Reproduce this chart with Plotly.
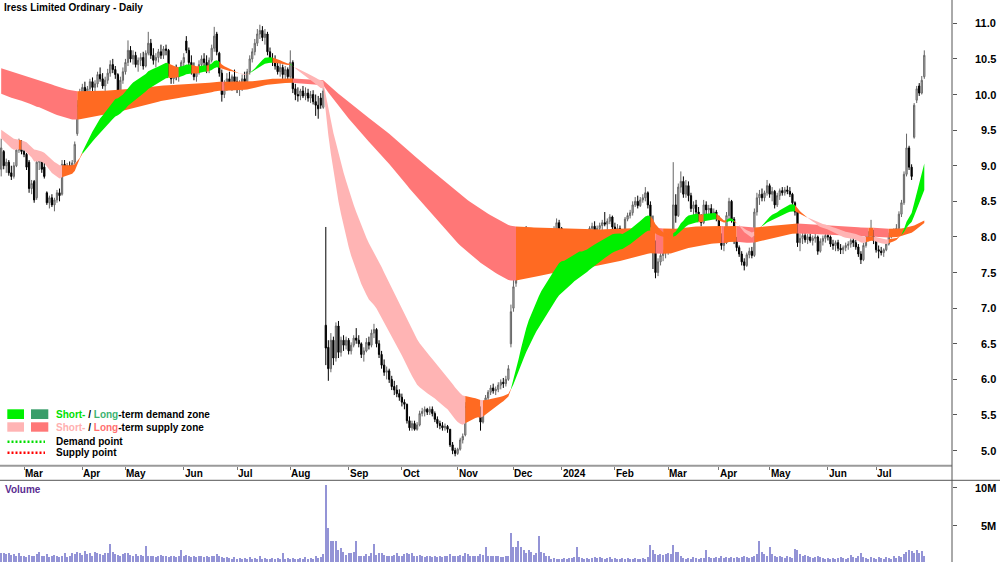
import numpy as np
import pandas as pd
import plotly.graph_objects as go

# ---------------- data ----------------
asx_holidays = ['2023-04-07', '2023-04-10', '2023-04-25', '2023-06-12', '2023-12-25', '2023-12-26',
                '2024-01-01', '2024-01-26', '2024-03-29', '2024-04-01', '2024-04-25', '2024-06-10']
dates = [d for d in pd.bdate_range('2023-02-16', '2024-07-26') if d.strftime('%Y-%m-%d') not in asx_holidays]

opens = [
    8.95, 9.20, 9.00, 9.05, 8.90, 8.85, 9.00, 9.22, 9.28, 9.20,
    9.16, 9.05, 8.68, 8.78, 8.55, 9.05, 9.10, 8.98, 8.62, 8.48,
    8.55, 8.45, 8.52, 8.62, 8.60, 9.02, 8.96, 9.00, 8.98, 9.05,
    9.45, 9.85, 10.02, 10.10, 10.02, 10.08, 10.18, 10.10, 10.15, 10.28,
    10.22, 10.12, 10.20, 10.30, 10.42, 10.35, 10.28, 10.05, 10.20, 10.32,
    10.45, 10.62, 10.50, 10.55, 10.42, 10.48, 10.52, 10.40, 10.58, 10.72,
    10.55, 10.48, 10.52, 10.60, 10.55, 10.64, 10.62, 10.30, 10.22, 10.30,
    10.25, 10.34, 10.45, 10.75, 10.62, 10.45, 10.35, 10.25, 10.32, 10.42,
    10.50, 10.45, 10.36, 10.48, 10.65, 10.85, 10.58, 10.30, 10.00, 10.15,
    10.22, 10.15, 10.25, 10.18, 10.08, 10.12, 10.22, 10.18, 10.32, 10.50,
    10.60, 10.72, 10.85, 10.90, 10.80, 10.85, 10.60, 10.50, 10.48, 10.40,
    10.32, 10.38, 10.28, 10.35, 10.25, 10.45, 10.08, 10.00, 9.98, 10.05,
    9.98, 10.02, 9.95, 10.00, 9.90, 9.85, 9.95, 9.82,
    6.76, 6.45, 6.15, 6.55, 6.30, 6.75, 6.38, 6.55, 6.48, 6.55,
    6.40, 6.48, 6.58, 6.55, 6.50, 6.35, 6.40, 6.52, 6.48, 6.65,
    6.70, 6.50, 6.35, 6.20, 6.10, 6.12, 6.00, 5.90, 5.85, 5.80,
    5.75, 5.68, 5.65, 5.42, 5.32, 5.38, 5.30, 5.36, 5.52, 5.55,
    5.58, 5.54, 5.58, 5.52, 5.44, 5.38, 5.35, 5.32, 5.34, 5.30,
    5.08, 5.00, 4.96, 5.02, 5.15, 5.22, 5.62, 5.68, 5.60, 5.55,
    5.62, 5.60, 5.40, 5.65, 5.74, 5.82, 5.88, 5.84, 5.86, 5.92,
    5.96, 5.94, 6.00, 6.50, 7.00, 7.35, 7.55, 7.75, 7.98, 8.05,
    8.02, 7.95, 7.80, 7.92, 7.98, 7.90, 7.96, 7.92, 7.98, 7.94,
    8.00, 8.10, 8.20, 8.12, 7.88, 7.75, 7.88, 7.92, 7.95, 8.02,
    8.05, 7.92, 7.80, 7.92, 7.98, 8.12, 8.15, 8.08, 8.12, 8.16,
    8.20, 8.18, 8.22, 8.28, 8.14, 8.10, 8.12, 8.02, 7.98, 8.25,
    8.30, 8.34, 8.45, 8.50, 8.44, 8.52, 8.55, 8.62, 8.45, 8.20,
    7.80, 7.50, 7.65, 7.74, 7.78, 7.82, 7.85, 7.92, 8.45, 8.30,
    8.70, 8.78, 8.60, 8.72, 8.58, 8.40, 8.45, 8.35, 8.28, 8.20,
    8.45, 8.38, 8.40, 8.32, 8.35, 8.28, 8.00, 7.88, 7.92, 8.30,
    8.50, 8.25, 7.95, 7.85, 7.76, 7.65, 7.60, 7.75, 7.80, 7.74,
    8.35, 8.55, 8.60, 8.55, 8.62, 8.72, 8.60, 8.64, 8.45, 8.58,
    8.65, 8.62, 8.66, 8.64, 8.60, 8.48, 8.35, 7.92, 7.98, 8.02,
    7.96, 8.00, 7.95, 7.98, 8.00, 7.80, 7.94, 7.98, 8.02, 8.00,
    7.90, 7.88, 7.92, 7.84, 7.82, 7.85, 7.88, 7.90, 7.95, 7.92,
    7.86, 7.76, 7.68, 7.88, 8.00, 8.04, 8.06, 7.95, 7.82, 7.80,
    7.78, 7.82, 7.90, 8.02, 8.06, 8.08, 8.12, 8.32, 8.48, 8.88,
    9.25, 8.98, 9.40, 9.92, 10.12, 10.02, 10.25,
]
highs = [
    9.38, 9.22, 9.10, 9.08, 9.00, 9.05, 9.33, 9.38, 9.36, 9.30,
    9.18, 9.08, 8.80, 8.80, 9.10, 9.17, 9.15, 9.05, 8.64, 8.58,
    8.60, 8.55, 8.66, 8.68, 9.08, 9.08, 9.04, 9.06, 9.08, 9.34,
    9.92, 10.08, 10.15, 10.18, 10.12, 10.22, 10.24, 10.20, 10.32, 10.38,
    10.30, 10.25, 10.36, 10.48, 10.50, 10.40, 10.30, 10.25, 10.38, 10.50,
    10.76, 10.68, 10.62, 10.60, 10.52, 10.58, 10.60, 10.62, 10.88, 10.78,
    10.65, 10.58, 10.64, 10.70, 10.68, 10.70, 10.64, 10.40, 10.35, 10.42,
    10.38, 10.48, 10.58, 10.82, 10.66, 10.55, 10.45, 10.38, 10.48, 10.55,
    10.58, 10.55, 10.52, 10.70, 10.95, 10.88, 10.60, 10.35, 10.20, 10.30,
    10.32, 10.28, 10.35, 10.25, 10.20, 10.28, 10.32, 10.36, 10.55, 10.65,
    10.78, 10.92, 10.98, 10.96, 10.92, 10.88, 10.66, 10.58, 10.55, 10.48,
    10.45, 10.42, 10.40, 10.38, 10.62, 10.48, 10.15, 10.10, 10.08, 10.12,
    10.10, 10.08, 10.05, 10.06, 10.00, 9.98, 10.02, 10.10,
    8.14, 6.55, 6.65, 6.60, 6.80, 6.82, 6.60, 6.62, 6.60, 6.58,
    6.52, 6.62, 6.72, 6.62, 6.52, 6.45, 6.58, 6.60, 6.70, 6.78,
    6.72, 6.55, 6.40, 6.28, 6.18, 6.15, 6.05, 5.98, 5.92, 5.86,
    5.80, 5.72, 5.66, 5.48, 5.42, 5.42, 5.40, 5.56, 5.60, 5.62,
    5.60, 5.62, 5.62, 5.55, 5.48, 5.42, 5.40, 5.38, 5.36, 5.30,
    5.12, 5.04, 5.04, 5.18, 5.24, 5.68, 5.72, 5.70, 5.64, 5.66,
    5.66, 5.62, 5.70, 5.78, 5.85, 5.92, 5.94, 5.90, 5.96, 6.00,
    6.02, 6.05, 6.20, 7.05, 7.40, 7.65, 7.75, 8.05, 8.12, 8.15,
    8.10, 8.00, 7.98, 8.02, 8.05, 8.00, 8.04, 8.00, 8.06, 8.02,
    8.15, 8.26, 8.24, 8.14, 7.95, 7.92, 7.98, 8.00, 8.05, 8.10,
    8.08, 7.96, 7.95, 8.00, 8.15, 8.20, 8.22, 8.16, 8.20, 8.24,
    8.35, 8.26, 8.32, 8.30, 8.20, 8.18, 8.16, 8.08, 8.28, 8.34,
    8.38, 8.50, 8.56, 8.58, 8.56, 8.60, 8.70, 8.64, 8.50, 8.30,
    7.95, 7.70, 7.80, 7.82, 7.86, 7.90, 7.92, 9.05, 8.60, 8.75,
    8.92, 8.85, 8.80, 8.78, 8.62, 8.50, 8.52, 8.42, 8.32, 8.52,
    8.50, 8.45, 8.46, 8.40, 8.38, 8.30, 8.05, 7.96, 8.35, 8.55,
    8.52, 8.28, 8.00, 7.88, 7.80, 7.70, 7.78, 7.85, 7.86, 8.40,
    8.62, 8.66, 8.68, 8.65, 8.80, 8.75, 8.70, 8.66, 8.62, 8.68,
    8.70, 8.70, 8.72, 8.70, 8.62, 8.50, 8.38, 8.05, 8.08, 8.06,
    8.04, 8.05, 8.02, 8.05, 8.02, 7.98, 8.02, 8.06, 8.08, 8.02,
    7.96, 7.95, 7.96, 7.90, 7.88, 7.92, 7.94, 7.98, 8.00, 7.96,
    7.90, 7.80, 7.92, 8.05, 8.08, 8.24, 8.10, 7.98, 7.88, 7.86,
    7.84, 7.92, 8.06, 8.10, 8.12, 8.18, 8.36, 8.52, 8.92, 9.45,
    9.28, 9.02, 9.88, 10.12, 10.16, 10.26, 10.62,
]
lows = [
    8.85, 8.95, 8.90, 8.86, 8.80, 8.82, 8.98, 9.18, 9.16, 9.12,
    8.94, 8.62, 8.60, 8.48, 8.52, 8.94, 8.90, 8.82, 8.45, 8.40,
    8.42, 8.36, 8.48, 8.50, 8.58, 8.92, 8.90, 8.92, 8.90, 9.02,
    9.42, 9.80, 9.95, 9.98, 9.92, 10.02, 10.05, 10.00, 10.10, 10.18,
    10.08, 10.05, 10.15, 10.25, 10.30, 10.22, 10.00, 10.02, 10.15, 10.28,
    10.40, 10.45, 10.42, 10.38, 10.32, 10.40, 10.35, 10.38, 10.55, 10.50,
    10.42, 10.38, 10.45, 10.50, 10.50, 10.55, 10.25, 10.15, 10.15, 10.20,
    10.18, 10.30, 10.40, 10.58, 10.40, 10.28, 10.20, 10.18, 10.28, 10.35,
    10.38, 10.30, 10.30, 10.45, 10.60, 10.55, 10.25, 9.90, 9.95, 10.05,
    10.10, 10.05, 10.10, 10.02, 9.98, 10.05, 10.12, 10.15, 10.28, 10.45,
    10.55, 10.68, 10.78, 10.75, 10.70, 10.55, 10.45, 10.40, 10.35, 10.28,
    10.25, 10.22, 10.20, 10.20, 10.22, 10.02, 9.92, 9.90, 9.92, 9.95,
    9.92, 9.90, 9.88, 9.86, 9.70, 9.66, 9.80, 9.80,
    6.20, 5.98, 6.10, 6.20, 6.25, 6.30, 6.32, 6.40, 6.42, 6.35,
    6.35, 6.45, 6.50, 6.45, 6.30, 6.25, 6.38, 6.42, 6.45, 6.58,
    6.45, 6.30, 6.15, 6.05, 6.00, 5.95, 5.85, 5.78, 5.75, 5.70,
    5.62, 5.58, 5.38, 5.28, 5.28, 5.28, 5.28, 5.34, 5.48, 5.48,
    5.50, 5.50, 5.48, 5.40, 5.32, 5.30, 5.28, 5.28, 5.25, 5.05,
    4.95, 4.92, 4.94, 5.00, 5.10, 5.20, 5.55, 5.55, 5.48, 5.50,
    5.50, 5.28, 5.38, 5.62, 5.70, 5.78, 5.80, 5.78, 5.82, 5.86,
    5.88, 5.90, 5.98, 6.45, 6.95, 7.30, 7.50, 7.70, 7.88, 7.95,
    7.90, 7.75, 7.76, 7.85, 7.88, 7.84, 7.88, 7.85, 7.90, 7.86,
    7.96, 8.05, 8.08, 7.85, 7.64, 7.72, 7.82, 7.85, 7.90, 7.96,
    7.88, 7.75, 7.78, 7.86, 7.95, 8.05, 8.02, 8.00, 8.06, 8.08,
    8.15, 8.10, 8.18, 8.10, 8.02, 8.02, 7.98, 7.94, 7.96, 8.22,
    8.26, 8.30, 8.42, 8.40, 8.42, 8.48, 8.50, 8.40, 8.10, 7.55,
    7.42, 7.45, 7.60, 7.66, 7.70, 7.75, 7.80, 7.90, 8.20, 8.28,
    8.62, 8.55, 8.55, 8.50, 8.35, 8.30, 8.30, 8.22, 8.15, 8.18,
    8.32, 8.30, 8.28, 8.25, 8.22, 7.95, 7.82, 7.80, 7.90, 8.25,
    8.20, 7.90, 7.80, 7.72, 7.60, 7.53, 7.58, 7.70, 7.70, 7.72,
    8.30, 8.45, 8.50, 8.50, 8.58, 8.55, 8.50, 8.40, 8.42, 8.52,
    8.58, 8.58, 8.60, 8.56, 8.45, 8.30, 7.86, 7.80, 7.90, 7.92,
    7.90, 7.92, 7.88, 7.92, 7.75, 7.78, 7.88, 7.92, 7.95, 7.86,
    7.82, 7.80, 7.80, 7.76, 7.76, 7.80, 7.82, 7.85, 7.86, 7.82,
    7.72, 7.62, 7.66, 7.85, 7.94, 7.98, 7.90, 7.78, 7.70, 7.74,
    7.72, 7.80, 7.88, 7.98, 8.00, 8.05, 8.10, 8.28, 8.45, 8.85,
    8.94, 8.80, 9.38, 9.88, 9.98, 10.00, 10.22,
]
closes = [
    9.25, 9.00, 9.05, 8.90, 8.85, 9.00, 9.22, 9.28, 9.20, 9.16,
    8.98, 8.68, 8.75, 8.52, 9.05, 9.10, 8.95, 8.85, 8.48, 8.55,
    8.45, 8.52, 8.62, 8.58, 9.02, 8.96, 9.00, 8.98, 9.04, 9.30,
    9.85, 10.02, 10.10, 10.02, 10.08, 10.18, 10.10, 10.15, 10.28, 10.22,
    10.12, 10.20, 10.30, 10.42, 10.35, 10.28, 10.05, 10.20, 10.32, 10.45,
    10.62, 10.50, 10.55, 10.42, 10.48, 10.52, 10.40, 10.58, 10.72, 10.55,
    10.48, 10.52, 10.60, 10.55, 10.64, 10.62, 10.30, 10.22, 10.30, 10.25,
    10.34, 10.45, 10.52, 10.62, 10.45, 10.35, 10.25, 10.32, 10.42, 10.50,
    10.45, 10.36, 10.48, 10.65, 10.82, 10.60, 10.30, 10.00, 10.15, 10.22,
    10.15, 10.25, 10.18, 10.08, 10.12, 10.22, 10.18, 10.32, 10.50, 10.60,
    10.72, 10.85, 10.90, 10.80, 10.85, 10.60, 10.50, 10.48, 10.40, 10.32,
    10.38, 10.28, 10.35, 10.25, 10.45, 10.08, 10.00, 9.98, 10.05, 9.98,
    10.02, 9.95, 10.00, 9.90, 9.85, 9.80, 9.85, 10.05,
    6.44, 6.15, 6.55, 6.30, 6.75, 6.38, 6.55, 6.48, 6.55, 6.40,
    6.48, 6.58, 6.55, 6.50, 6.35, 6.40, 6.52, 6.48, 6.65, 6.70,
    6.50, 6.35, 6.20, 6.10, 6.12, 6.00, 5.90, 5.85, 5.80, 5.75,
    5.68, 5.65, 5.42, 5.32, 5.38, 5.30, 5.36, 5.52, 5.55, 5.58,
    5.54, 5.58, 5.52, 5.44, 5.38, 5.35, 5.32, 5.34, 5.30, 5.08,
    5.00, 4.96, 5.02, 5.15, 5.20, 5.62, 5.68, 5.60, 5.55, 5.62,
    5.58, 5.40, 5.65, 5.74, 5.82, 5.88, 5.84, 5.86, 5.92, 5.96,
    5.94, 6.00, 6.15, 6.95, 7.30, 7.55, 7.70, 7.98, 8.05, 8.02,
    7.95, 7.80, 7.92, 7.98, 7.90, 7.96, 7.92, 7.98, 7.94, 8.00,
    8.10, 8.20, 8.12, 7.88, 7.75, 7.88, 7.92, 7.95, 8.02, 8.05,
    7.92, 7.80, 7.92, 7.98, 8.12, 8.15, 8.08, 8.12, 8.16, 8.20,
    8.18, 8.22, 8.28, 8.14, 8.10, 8.12, 8.02, 7.98, 8.25, 8.30,
    8.34, 8.45, 8.50, 8.44, 8.52, 8.55, 8.62, 8.45, 8.20, 7.80,
    7.50, 7.65, 7.74, 7.78, 7.82, 7.85, 7.88, 8.45, 8.30, 8.70,
    8.78, 8.60, 8.72, 8.58, 8.40, 8.45, 8.35, 8.28, 8.20, 8.45,
    8.38, 8.40, 8.32, 8.35, 8.28, 8.00, 7.88, 7.92, 8.30, 8.50,
    8.25, 7.95, 7.85, 7.76, 7.65, 7.60, 7.75, 7.80, 7.74, 8.35,
    8.55, 8.60, 8.55, 8.62, 8.72, 8.60, 8.64, 8.45, 8.58, 8.65,
    8.62, 8.66, 8.64, 8.60, 8.48, 8.35, 7.92, 7.98, 8.02, 7.96,
    8.00, 7.95, 7.98, 8.00, 7.80, 7.94, 7.98, 8.02, 8.00, 7.90,
    7.88, 7.92, 7.84, 7.82, 7.85, 7.88, 7.90, 7.95, 7.92, 7.86,
    7.76, 7.68, 7.88, 8.00, 8.04, 8.06, 7.95, 7.82, 7.80, 7.78,
    7.82, 7.90, 8.02, 8.06, 8.08, 8.12, 8.32, 8.48, 8.88, 9.25,
    8.98, 8.85, 9.85, 10.08, 10.02, 10.20, 10.55,
]
volumes_m = [
    1.3, 1.4, 1.2, 1.3, 1.1, 1.2, 1.0, 1.3, 0.9, 1.0,
    0.8, 1.1, 0.9, 1.0, 1.2, 1.5, 1.0, 0.9, 1.2, 0.8,
    1.0, 1.1, 0.9, 0.8, 1.0, 1.3, 0.8, 1.0, 1.4, 1.2,
    1.5, 1.3, 1.1, 1.6, 1.2, 1.4, 1.0, 1.5, 1.3, 1.2,
    1.1, 1.4, 1.3, 2.6, 1.5, 1.2, 1.1, 1.0, 1.2, 1.3,
    1.4, 1.1, 0.9, 1.2, 1.0, 1.1, 0.9, 2.3, 1.0, 0.9,
    1.0, 0.8, 0.9, 1.1, 0.9, 1.0, 0.8, 0.9, 1.0, 0.8,
    0.9, 1.8, 1.0, 1.1, 0.9, 0.8, 0.9, 0.8, 1.0, 0.9,
    0.8, 0.9, 0.8, 1.0, 0.9, 1.2, 0.9, 0.8, 0.7, 0.8,
    0.7, 0.6, 0.8, 0.6, 0.7, 0.6, 0.7, 0.6, 0.8, 0.6,
    0.7, 0.6, 0.9, 0.6, 0.7, 0.6, 0.6, 0.7, 0.6, 0.7,
    0.6, 1.3, 0.6, 0.7, 0.6, 0.7, 0.6, 0.6, 0.7, 0.6,
    0.8, 0.6, 0.7, 0.6, 1.0, 0.7, 0.8, 1.2,
    10.3, 4.6, 3.0, 2.9, 3.0, 1.8, 2.0, 1.5, 1.1, 1.3,
    1.4, 1.5, 3.0, 1.0, 0.9, 0.9, 1.2, 1.0, 1.3, 2.6,
    1.1, 1.3, 1.3, 1.1, 0.9, 1.0, 0.9, 1.1, 1.3, 0.9,
    1.0, 1.2, 1.3, 1.2, 1.3, 1.0, 0.9, 1.1, 0.9, 0.8,
    1.0, 0.9, 0.8, 0.9, 0.8, 0.9, 0.8, 0.9, 1.0, 1.2,
    1.0, 0.9, 1.0, 1.1, 0.9, 1.3, 1.2, 1.0, 0.9, 0.9,
    1.0, 1.2, 1.1, 2.2, 1.0, 1.0, 1.0, 1.0, 0.9, 0.8,
    0.8, 0.9, 0.9, 4.0, 2.2, 2.1, 2.9, 2.2, 1.7, 1.3,
    1.8, 1.5, 1.1, 1.3, 3.6, 1.5, 1.3, 0.9, 0.9, 0.6,
    0.7, 0.6, 0.6, 0.6, 0.7, 0.6, 0.7, 0.7, 0.8, 2.2,
    0.8, 0.7, 0.6, 0.7, 0.6, 0.7, 0.8, 0.7, 0.8, 0.7,
    0.6, 0.7, 0.8, 0.6, 0.7, 0.6, 0.6, 0.7, 0.6, 0.7,
    0.6, 0.6, 0.7, 0.6, 0.6, 0.7, 0.6, 0.8, 2.4, 1.8,
    1.2, 1.1, 1.2, 1.1, 1.2, 1.3, 1.2, 2.4, 1.5, 1.5,
    0.9, 0.7, 0.6, 0.7, 0.6, 0.8, 0.7, 0.6, 0.7, 0.7,
    1.7, 0.8, 0.7, 0.7, 0.8, 0.7, 0.9, 0.7, 0.8, 0.7,
    0.8, 0.7, 0.8, 0.7, 0.8, 0.9, 0.8, 0.7, 0.8, 0.9,
    1.2, 3.0, 1.5, 1.2, 1.0, 2.1, 1.2, 1.0, 0.8, 0.9,
    0.8, 0.7, 0.9, 0.8, 0.7, 1.9, 1.8, 1.2, 0.9, 1.1,
    0.9, 0.8, 0.7, 0.8, 0.9, 0.8, 0.7, 0.6, 0.7, 0.6,
    0.7, 0.6, 0.7, 0.8, 0.7, 0.6, 0.7, 1.1, 0.8, 0.7,
    0.9, 1.3, 0.8, 0.7, 0.6, 0.8, 0.7, 0.6, 0.8, 0.7,
    0.6, 0.8, 0.7, 0.6, 0.9, 0.7, 1.0, 0.8, 1.2, 1.5,
    1.7, 1.6, 1.4, 1.8, 1.4, 1.6, 1.0,
]

month_labels = ['Mar', 'Apr', 'May', 'Jun', 'Jul', 'Aug', 'Sep', 'Oct', 'Nov', 'Dec',
                '2024', 'Feb', 'Mar', 'Apr', 'May', 'Jun', 'Jul']
price_ticks = [5.0, 5.5, 6.0, 6.5, 7.0, 7.5, 8.0, 8.5, 9.0, 9.5, 10.0, 10.5, 11.0]
price_tick_labels = ['5.0', '5.5', '6.0', '6.5', '7.0', '7.5', '8.0', '8.5', '9.0', '9.5', '10.0', '10.5', '11.0']
volume_ticks = [0, 5, 10]
volume_tick_labels = ['0', '5M', '10M']

# indicator settings: EMA periods and their values just before the first bar
short_periods = (21, 38)
short_start = (9.40, 9.52)
long_periods = (147, 235)
long_start = (10.02, 10.38)

# ---------------- build ----------------
n = min(len(dates), len(opens), len(highs), len(lows), len(closes), len(volumes_m))
dates = dates[:n]
xs = np.arange(n)
closes_a = np.array(closes[:n])


def ema(values, period, seed):
    a = 2.0 / (period + 1)
    out, e = [], seed
    for v in values:
        e = e + a * (v - e)
        out.append(e)
    return np.array(out)


month_pos = [i for i in range(1, n) if dates[i].month != dates[i - 1].month]

C_SHORT_UP = '#00F000'
C_LONG_UP = '#3A9E6A'
C_SHORT_DN = '#FFB4B4'
C_LONG_DN = '#FF7777'
C_MIX = '#FF6A22'


def band_traces(fast, slow, seeds, up_col, dn_col, slope_of='mid'):
    if slope_of == 'mid':
        ref = (fast + slow) / 2.0
        first = (seeds[0] + seeds[1]) / 2.0
    else:
        ref = fast
        first = seeds[0]
    prev = np.concatenate([[first], ref[:-1]])
    slope = ref - prev
    state = []
    for i in range(len(fast)):
        if fast[i] >= slow[i] and slope[i] > 0:
            state.append('up')
        elif fast[i] < slow[i] and slope[i] < 0:
            state.append('dn')
        else:
            state.append('mix')
    cols = {'up': up_col, 'dn': dn_col, 'mix': C_MIX}
    upper = np.maximum(fast, slow)
    lower = np.minimum(fast, slow)
    traces = []
    a = 0
    for i in range(1, len(fast) + 1):
        if i == len(fast) or state[i] != state[a]:
            b = min(i, len(fast) - 1)
            px = list(xs[a:b + 1]) + list(xs[a:b + 1][::-1])
            py = list(upper[a:b + 1]) + list(lower[a:b + 1][::-1])
            traces.append(go.Scatter(x=px, y=py, fill='toself', fillcolor=cols[state[a]],
                                     mode='lines', line=dict(width=0), hoverinfo='skip',
                                     showlegend=False, xaxis='x', yaxis='y'))
            a = i
    return traces


s_fast = ema(closes_a, short_periods[0], short_start[0])
s_slow = ema(closes_a, short_periods[1], short_start[1])
l_fast = ema(closes_a, long_periods[0], long_start[0])
l_slow = ema(closes_a, long_periods[1], long_start[1])

fig = go.Figure()
for t in band_traces(l_fast, l_slow, long_start, C_LONG_UP, C_LONG_DN, slope_of='fast'):
    fig.add_trace(t)
for t in band_traces(s_fast, s_slow, short_start, C_SHORT_UP, C_SHORT_DN, slope_of='mid'):
    fig.add_trace(t)

fig.add_trace(go.Candlestick(
    x=xs, open=opens[:n], high=highs[:n], low=lows[:n], close=closes[:n],
    increasing=dict(fillcolor='#C4C4C4', line=dict(color='#666666', width=1)),
    decreasing=dict(fillcolor='#000000', line=dict(color='#000000', width=1)),
    whiskerwidth=0, showlegend=False, hoverinfo='skip', xaxis='x', yaxis='y'))

fig.add_trace(go.Bar(x=xs, y=volumes_m[:n], width=0.45, marker=dict(color='#9494D6', line=dict(width=0)),
                     showlegend=False, hoverinfo='skip', xaxis='x2', yaxis='y2'))

W, H = 1000.0, 562.0
PW = 952.0
y_price_bottom = 465.7
y_vol_top = 480.3
x_range = [-0.47, -0.47 + PW / 2.536]

FONT = 'Liberation Sans, Arial, sans-serif'

fig.update_layout(
    width=1000, height=562, margin=dict(l=0, r=48, t=0, b=0),
    paper_bgcolor='white', plot_bgcolor='white', showlegend=False,
    font=dict(family=FONT, size=10, color='black'),
    xaxis=dict(domain=[0, 1], range=x_range, showgrid=False, zeroline=False, showline=False,
               tickvals=month_pos, ticks='outside', ticklen=3, tickwidth=1, tickcolor='#777777',
               showticklabels=False, rangeslider=dict(visible=False), anchor='y', fixedrange=True),
    yaxis=dict(domain=[1 - y_price_bottom / H, 1], range=[4.788, 11.327], side='right', showgrid=False,
               zeroline=False, showline=False, tickvals=price_ticks, ticks='outside', ticklen=4,
               tickcolor='#555555', showticklabels=False, anchor='x'),
    xaxis2=dict(domain=[0, 1], range=x_range, visible=False, anchor='y2', matches='x'),
    yaxis2=dict(domain=[0, 1 - y_vol_top / H], range=[0.19, 11.02], side='right', showgrid=False,
                zeroline=False, showline=False, tickvals=volume_ticks, ticks='outside', ticklen=4,
                tickcolor='#555555', showticklabels=False, anchor='x2'),
    bargap=0,
)


def px_x(px):
    return px / PW


def px_y(py):
    return 1 - py / H


shapes = [
    dict(type='line', xref='paper', yref='paper', x0=0, x1=1, y0=px_y(y_price_bottom), y1=px_y(y_price_bottom),
         line=dict(color='#9A9A9A', width=2)),
    dict(type='line', xref='paper', yref='paper', x0=0, x1=px_x(1000), y0=px_y(y_vol_top), y1=px_y(y_vol_top),
         line=dict(color='#555555', width=1)),
    dict(type='line', xref='paper', yref='paper', x0=1, x1=1, y0=0, y1=1,
         line=dict(color='#555555', width=1)),
    # legend swatches
    dict(type='rect', xref='paper', yref='paper', x0=px_x(7.3), x1=px_x(24), y0=px_y(419), y1=px_y(409.3),
         fillcolor=C_SHORT_UP, line=dict(width=0)),
    dict(type='rect', xref='paper', yref='paper', x0=px_x(31), x1=px_x(48.3), y0=px_y(419), y1=px_y(409.3),
         fillcolor=C_LONG_UP, line=dict(width=0)),
    dict(type='rect', xref='paper', yref='paper', x0=px_x(7.3), x1=px_x(24), y0=px_y(431.7), y1=px_y(422.3),
         fillcolor=C_SHORT_DN, line=dict(width=0)),
    dict(type='rect', xref='paper', yref='paper', x0=px_x(31), x1=px_x(48.3), y0=px_y(431.7), y1=px_y(422.3),
         fillcolor=C_LONG_DN, line=dict(width=0)),
    dict(type='line', xref='paper', yref='paper', x0=px_x(7.5), x1=px_x(45), y0=px_y(441.7), y1=px_y(441.7),
         line=dict(color='#00DD00', width=2.5, dash='2px,2px')),
    dict(type='line', xref='paper', yref='paper', x0=px_x(7.5), x1=px_x(45), y0=px_y(452.7), y1=px_y(452.7),
         line=dict(color='#FF0000', width=2.5, dash='2px,2px')),
]

ann = []
BOLD = dict(family=FONT, size=10, color='black', weight='bold')
ann.append(dict(text='Iress Limited Ordinary - Daily', xref='paper', yref='paper', x=px_x(2), y=px_y(7.5),
                xanchor='left', yanchor='middle', showarrow=False, font=BOLD))
ann.append(dict(text="<span style='color:#00E000'>Short-</span> / <span style='color:#3CB371'>Long</span>-term demand zone",
                xref='paper', yref='paper', x=px_x(54), y=px_y(414.3), xanchor='left', yanchor='middle',
                showarrow=False, font=BOLD))
ann.append(dict(text="<span style='color:#FFB0B0'>Short-</span> / <span style='color:#FF7070'>Long</span>-term supply zone",
                xref='paper', yref='paper', x=px_x(54), y=px_y(427.3), xanchor='left', yanchor='middle',
                showarrow=False, font=BOLD))
ann.append(dict(text='Demand point', xref='paper', yref='paper', x=px_x(54), y=px_y(441.3), xanchor='left',
                yanchor='middle', showarrow=False, font=BOLD))
ann.append(dict(text='Supply point', xref='paper', yref='paper', x=px_x(54), y=px_y(452.7), xanchor='left',
                yanchor='middle', showarrow=False, font=BOLD))
ann.append(dict(text='Volume', xref='paper', yref='paper', x=px_x(2.5), y=px_y(489.5), xanchor='left',
                yanchor='middle', showarrow=False, font=dict(family=FONT, size=10, color='#5A2D91', weight='bold')))
for pos, lab in zip(month_pos, month_labels):
    ann.append(dict(text=lab, xref='x', yref='paper', x=pos, y=px_y(473.5), xanchor='left', xshift=-1,
                    yanchor='middle', showarrow=False, font=BOLD))
for v, lab in zip(price_ticks, price_tick_labels):
    ann.append(dict(text=lab, xref='paper', yref='y', x=px_x(998), y=v, xanchor='right', yanchor='middle',
                    showarrow=False, font=dict(family=FONT, size=11, color='black', weight='bold')))
for v, lab in zip(volume_ticks, volume_tick_labels):
    ann.append(dict(text=lab, xref='paper', yref='y2', x=px_x(998), y=v, xanchor='right', yanchor='middle',
                    showarrow=False, font=dict(family=FONT, size=11, color='black', weight='bold')))

fig.update_layout(shapes=shapes, annotations=ann)
fig.write_html('out.html')
